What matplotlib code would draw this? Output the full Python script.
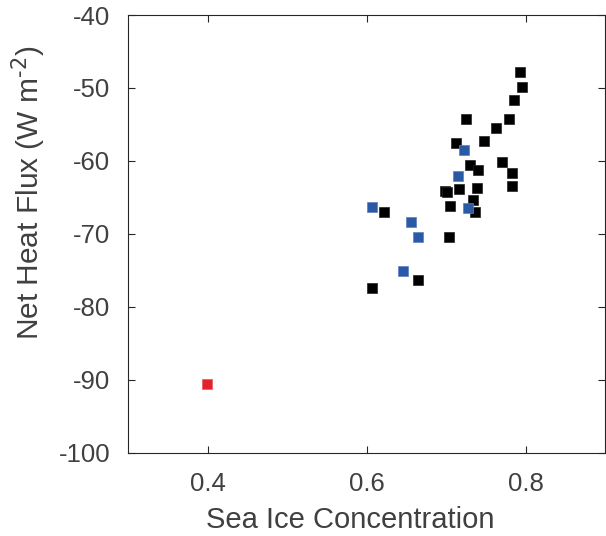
import matplotlib.pyplot as plt

plt.rcParams['font.family'] = ['Liberation Sans', 'DejaVu Sans']
plt.rcParams['axes.unicode_minus'] = False

# black points
ice_black = [0.793, 0.795, 0.785, 0.725, 0.779, 0.763, 0.747, 0.712,
             0.730, 0.770, 0.740, 0.783, 0.783, 0.698, 0.701, 0.716,
             0.739, 0.733, 0.705, 0.736, 0.622, 0.703, 0.664, 0.607]
flux_black = [-47.75, -49.8, -51.6, -54.2, -54.3, -55.5, -57.2, -57.5,
              -60.5, -60.2, -61.3, -61.6, -63.4, -64.1, -64.3, -63.9,
              -63.7, -65.4, -66.2, -67.0, -67.0, -70.4, -76.3, -77.4]

# blue points
ice_blue = [0.722, 0.714, 0.727, 0.606, 0.655, 0.664, 0.646]
flux_blue = [-58.5, -62.0, -66.4, -66.3, -68.3, -70.4, -75.1]

# red point
ice_red = [0.399]
flux_red = [-90.55]

xticks = [0.4, 0.6, 0.8]
yticks = [-100, -90, -80, -70, -60, -50, -40]

txt = '#404040'

fig = plt.figure(figsize=(6.06, 5.36), dpi=100)
ax = fig.add_axes([0.212, 0.155, 0.787, 0.817])

ms = 7
ax.plot(ice_black, flux_black, 's', color='black', markersize=ms, markeredgecolor='#222222', markeredgewidth=0.5)
ax.plot(ice_blue, flux_blue, 's', color='#2a5aa6', markersize=ms, markeredgecolor='#5a7fbf', markeredgewidth=0.5)
ax.plot(ice_red, flux_red, 's', color='#e3202b', markersize=ms, markeredgecolor='#ea5a60', markeredgewidth=0.5)

ax.set_xlim(0.3, 0.9)
ax.set_ylim(-100, -40)
ax.set_xticks(xticks)
ax.set_xticklabels([f'{v:.1f}' for v in xticks])
ax.set_yticks(yticks)
ax.set_yticklabels([str(v) for v in yticks])

ax.tick_params(direction='in', length=5, width=0.8, top=True, right=True,
               labelsize=18.5, colors='#262626', labelcolor=txt)
ax.tick_params(axis='x', pad=14)
ax.tick_params(axis='y', pad=13)
for s in ax.spines.values():
    s.set_color('#262626')
    s.set_linewidth(0.8)

ax.set_xlabel('Sea Ice Concentration', fontsize=21, color=txt, labelpad=7)
ax.xaxis.label.set_x(0.465)
ax.set_ylabel('Net Heat Flux (W m$^{\\text{-2}}$)', fontsize=21.5, color=txt, labelpad=8)
ax.yaxis.label.set_y(0.593)

fig.savefig('out.png', dpi=100)
